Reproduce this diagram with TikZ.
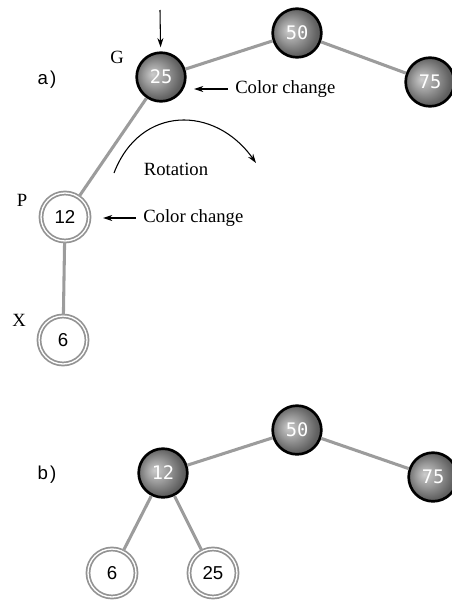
\documentclass[tikz,border=0pt]{standalone}
\usepackage{fontspec}
\setmainfont{Liberation Serif}
\setsansfont{Liberation Sans}
\setmonofont{DejaVu Sans Mono}
\usetikzlibrary{arrows.meta,positioning}
\pgfdeclareradialshading{darkball}{\pgfpoint{-9bp}{3bp}}{color(0bp)=(black!20);color(12bp)=(black!40);color(24bp)=(black!62);color(40bp)=(black!72)}

\begin{document}
\begin{tikzpicture}[
  x=0.75pt,y=-0.75pt,
  black node/.style={circle,draw=black,line width=2pt,minimum size=36.5pt,inner sep=0pt,
    shading=darkball,text=white,font=\fontsize{14}{14}\selectfont\ttfamily},
  red node/.style={circle,draw=gray!85,line width=1.3pt,double=white,double distance=1pt,
    minimum size=36pt,inner sep=0pt,fill=white,font=\fontsize{14}{14}\selectfont\sffamily},
  edge/.style={draw=gray!78,line width=2.3pt},
  lbl/.style={inner sep=0pt,font=\fontsize{14}{16}\selectfont},
  part/.style={inner sep=0pt,font=\fontsize{14}{16}\selectfont\sffamily},
  arr/.style={-{Stealth[length=7pt,width=4.5pt]},line width=0.8pt}
]
\useasboundingbox (0,0) rectangle (451,600);

% a) before the rotation
\node[part] (parta) at (47,80) {a\kern1.5pt)};
\node[black node] (g) at (161,77) {25};
\node[black node] (a50) at (297,33) {50};
\node[black node] (a75) at (430,82) {75};
\node[red node] (p) at (65,217) {12};
\node[red node] (x) at (63,340) {6};
\node[lbl] (glbl) at (117,57) {G};
\node[lbl] (plbl) at (22,200) {P};
\node[lbl] (xlbl) at (19,320) {X};
\draw[edge] (g) -- (a50);
\draw[edge] (a50) -- (a75);
\draw[edge] (g) -- (p);
\draw[edge] (p) -- (x);

\coordinate (top) at (160,10);
\draw[arr] (top) -- (g) [shorten >=3pt];
\node[lbl,anchor=west] (cc1) at (235,89) {Color change};
\coordinate (cc1tip) at (194,89);
\draw[arr] ([xshift=-5.5pt]cc1.west) -- (cc1tip);
\node[lbl,anchor=west] (cc2) at (143,218) {Color change};
\coordinate (cc2tip) at (103,218);
\draw[arr] ([xshift=-5.5pt]cc2.west) -- (cc2tip);

\node[lbl] (rot) at (176,169) {Rotation};
\coordinate (rotfrom) at (114,173);
\coordinate (rotto) at (256,163);
\draw[arr] (rotfrom) .. controls (140,105) and (215,105) .. (rotto);

% b) after the rotation
\node[part] (partb) at (47,475) {b\kern1.5pt)};
\node[black node] (b12) at (163,473) {12};
\node[black node] (b50) at (297,430) {50};
\node[black node] (b75) at (433,477) {75};
\node[red node] (b6) at (112,573) {6};
\node[red node] (b25) at (213,573) {25};
\draw[edge] (b12) -- (b50);
\draw[edge] (b50) -- (b75);
\draw[edge] (b12) -- (b6);
\draw[edge] (b12) -- (b25);
\end{tikzpicture}
\end{document}
